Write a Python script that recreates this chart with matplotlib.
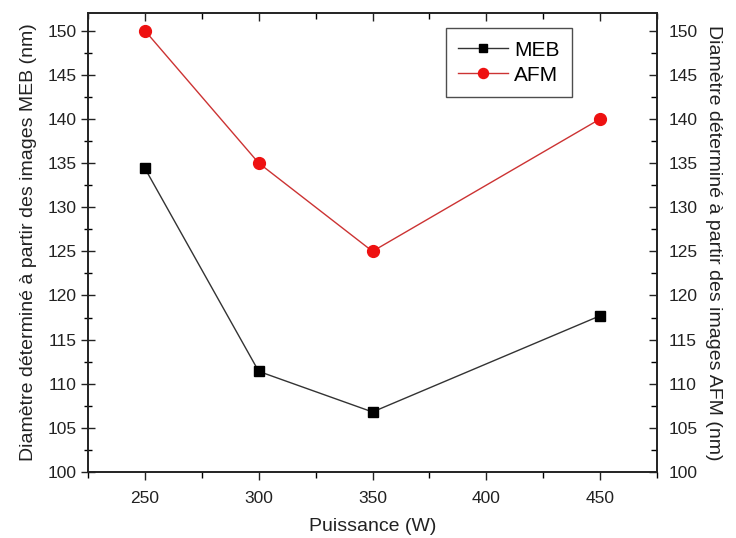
import matplotlib
matplotlib.use("Agg")
import matplotlib.pyplot as plt
from matplotlib.ticker import MultipleLocator

plt.rcParams["font.family"] = ["Liberation Sans", "DejaVu Sans"]

puissance = [250, 300, 350, 450]
meb = [134.4, 111.4, 106.8, 117.7]
afm = [150, 135, 125, 140]

x_ticks = [250, 300, 350, 400, 450]
y_ticks = [100, 105, 110, 115, 120, 125, 130, 135, 140, 145, 150]

fig = plt.figure(figsize=(7.36, 5.38), dpi=100)
ax = fig.add_axes([0.1196, 0.1227, 0.7731, 0.8531])

ax.plot(puissance, meb, color="#333333", lw=1.0, marker="s", ms=7.5,
        mfc="black", mec="black", label="MEB")
ax.plot(puissance, afm, color="#cc3333", lw=1.0, marker="o", ms=8.5,
        mfc="#ee1111", mec="#ee1111", label="AFM")

ax.set_xlim(225, 475)
ax.set_ylim(100, 152)
ax.set_xticks(x_ticks)
ax.set_yticks(y_ticks)
ax.xaxis.set_minor_locator(MultipleLocator(25))
ax.yaxis.set_minor_locator(MultipleLocator(2.5))

ax.tick_params(axis="x", which="major", direction="out", length=6, width=1,
               labelsize=12.5, colors="#222222", pad=8, top=True)
ax.tick_params(axis="x", which="minor", direction="out", length=4, width=1, top=True)
ax.tick_params(axis="y", which="major", direction="inout", length=10, width=1,
               labelsize=12.5, colors="#222222", pad=3)
ax.tick_params(axis="y", which="minor", direction="inout", length=6, width=1)
for t in ax.xaxis.get_major_ticks() + ax.xaxis.get_minor_ticks():
    t.tick2line.set_marker(3)  # inward on top
for t in ax.xaxis.get_major_ticks():
    t.tick2line.set_markersize(6)
for t in ax.xaxis.get_minor_ticks():
    t.tick2line.set_markersize(4)

for s in ax.spines.values():
    s.set_linewidth(1.2)
    s.set_color("#222222")

ax.set_xlabel("Puissance (W)", fontsize=14, color="#222222", labelpad=8)
ax.set_ylabel("Diamètre déterminé à partir des images MEB (nm)", fontsize=14,
              color="#222222", labelpad=8)

ax2 = ax.twinx()
ax2.set_ylim(100, 152)
ax2.set_yticks(y_ticks)
ax2.yaxis.set_minor_locator(MultipleLocator(2.5))
ax2.tick_params(axis="y", which="major", direction="in", length=6, width=1,
                labelsize=12.5, colors="#222222", pad=8)
ax2.tick_params(axis="y", which="minor", direction="in", length=4, width=1)
ax2.set_ylabel("Diamètre déterminé à partir des images AFM (nm)", fontsize=14,
               color="#222222", rotation=270, labelpad=18)
for s in ax2.spines.values():
    s.set_linewidth(1.2)
    s.set_color("#222222")

leg = ax.legend(loc="upper left", bbox_to_anchor=(0.61, 0.99), fontsize=15,
                frameon=True, fancybox=False, edgecolor="#222222",
                handlelength=2.4, borderpad=0.6, labelspacing=0.3,
                markerscale=0.85, handletextpad=0.3)
leg.get_frame().set_linewidth(1.0)

fig.savefig("out.png", dpi=100)
